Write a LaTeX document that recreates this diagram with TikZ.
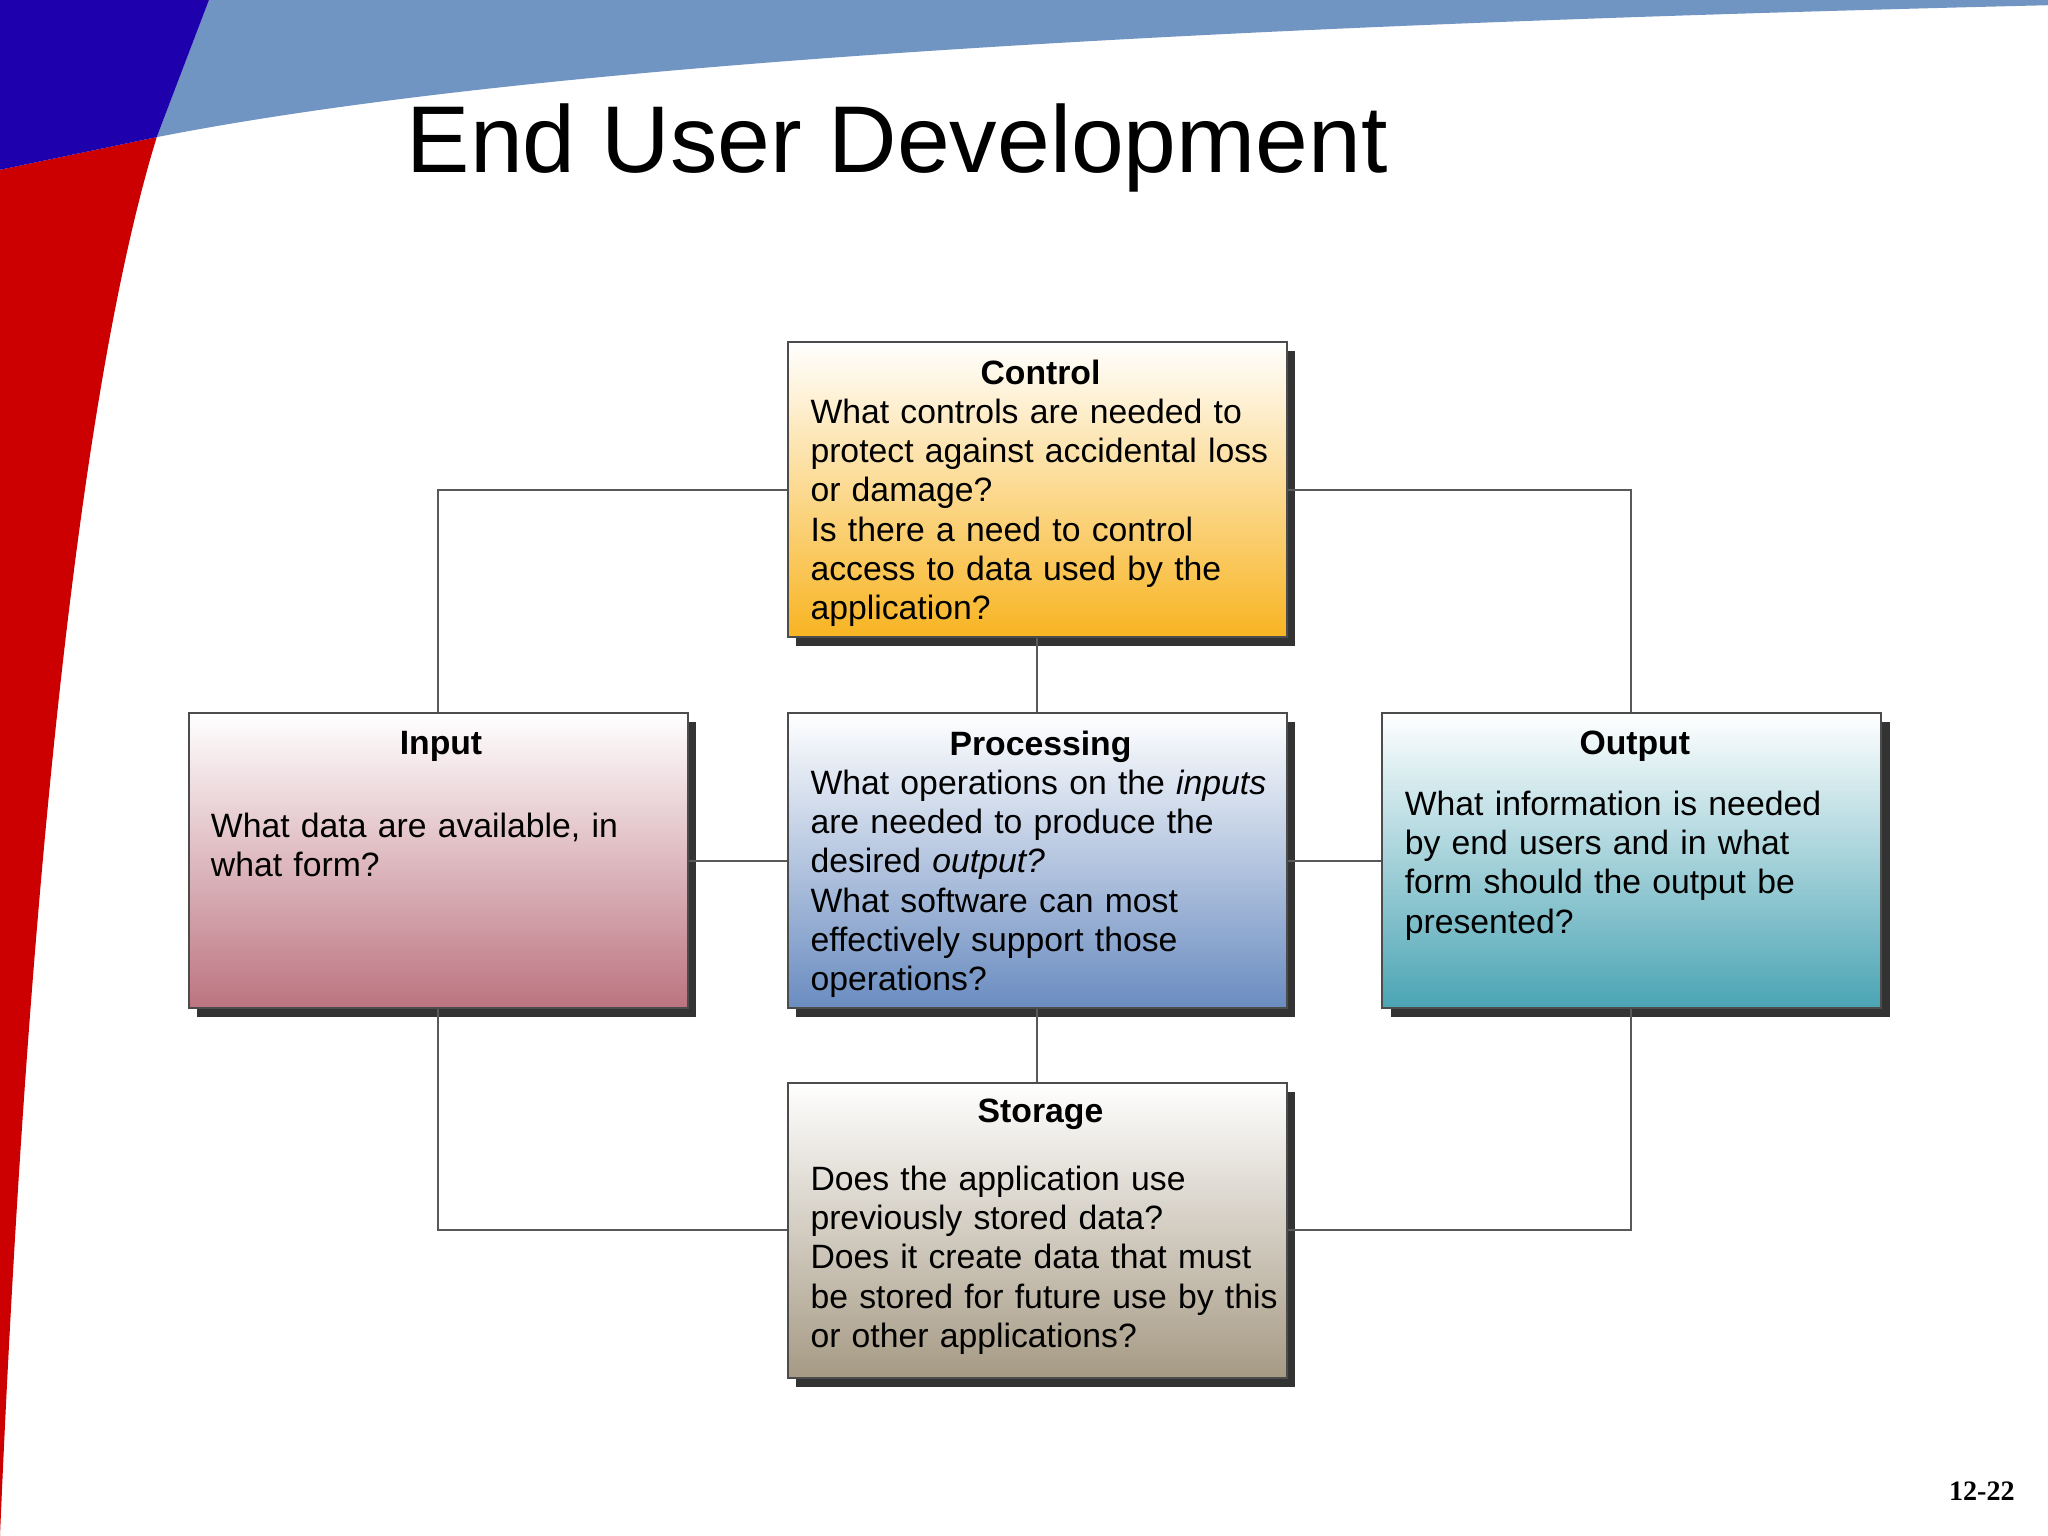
\documentclass[tikz,border=0pt]{standalone}
\usepackage{fontspec}
\setmainfont{Liberation Sans}
\newfontfamily\serifpn{Liberation Serif}
\usetikzlibrary{shadows}
\definecolor{cOr}{HTML}{F8B422}
\definecolor{cIn}{HTML}{BC7480}
\definecolor{cPr}{HTML}{6A8CC0}
\definecolor{cOu}{HTML}{4AA4B4}
\definecolor{cSt}{HTML}{A69A84}
\tikzset{
 box/.style={draw=black!70,line width=0.6pt,minimum width=4.99cm,minimum height=2.95cm,inner sep=0pt,
   drop shadow={shadow xshift=2.5pt,shadow yshift=-2.5pt,fill=black!80,opacity=1}},
 txt/.style={anchor=north west,align=left,text width=4.8cm,inner sep=0pt,font=\fontsize{9.6}{11.15}\selectfont},
 con/.style={draw=black!65,line width=0.6pt}
}
\newcommand{\ttl}[1]{\makebox[4.6cm]{\bfseries #1}}
\begin{document}
\begin{tikzpicture}[x=0.01306cm,y=-0.01306cm]
\useasboundingbox (0,0) rectangle (1568,1176);
\fill[white] (0,0) rectangle (1568,1176);
% background decorations
\fill[red!80!black] (0,130) -- (120,105) .. controls (60,300) and (20,700) .. (0,1176) -- cycle;
\fill[blue!55!cyan!40!gray!80] (160,0) -- (1568,0) -- (1568,4) .. controls (900,20) and (400,50) .. (120,105) -- cycle;
\fill[blue!70!violet!80!black] (0,0) -- (160,0) -- (120,105) -- (0,130) -- cycle;
\node[anchor=west,font=\fontsize{27}{30}\selectfont] (title) at (302,113) {End User Development};
\node[anchor=east,font=\serifpn\bfseries\fontsize{8}{9}\selectfont] (pg) at (1552,1142) {12-22};
% boxes
\node[box,top color=white,bottom color=cOr] (ctrl) at (794,375) {};
\node[box,top color=white,bottom color=cIn] (inp) at (335.5,659) {};
\node[box,top color=white,bottom color=cPr] (proc) at (794,659) {};
\node[box,top color=white,bottom color=cOu] (outp) at (1249,659) {};
\node[box,top color=white,bottom color=cSt] (stor) at (794,942) {};
% connectors
\draw[con] (ctrl.west) -| (inp.north);
\draw[con] (ctrl.east) -| (outp.north);
\draw[con] (ctrl) -- (proc);
\draw[con] (proc) -- (stor);
\draw[con] (inp) -- (proc);
\draw[con] (proc) -- (outp);
\draw[con] (inp.south) |- (stor.west);
\draw[con] (outp.south) |- (stor.east);
% texts
\node[txt] (tc) at (620,275) {\ttl{Control}\\What controls are needed to\\protect against accidental loss\\or damage?\\Is there a need to control\\access to data used by the\\application?};
\node[txt] (ti) at (161,559) {\hspace*{-0.1cm}\makebox[4.8cm]{\bfseries Input}\\[1.3em]What data are available, in\\what form?};
\node[txt] (tp) at (620,559) {\ttl{Processing}\\What operations on the \emph{inputs}\\are needed to produce the\\desired \emph{output?}\\What software can most\\effectively support those\\operations?};
\node[txt] (to) at (1075,559) {\makebox[4.6cm]{\bfseries Output}\\[0.65em]What information is needed\\by end users and in what\\form should the output be\\presented?};
\node[txt] (ts) at (620,841) {\ttl{Storage}\\[0.85em]Does the application use\\previously stored data?\\Does it create data that must\\be stored for future use by this\\or other applications?};
\end{tikzpicture}
\end{document}
